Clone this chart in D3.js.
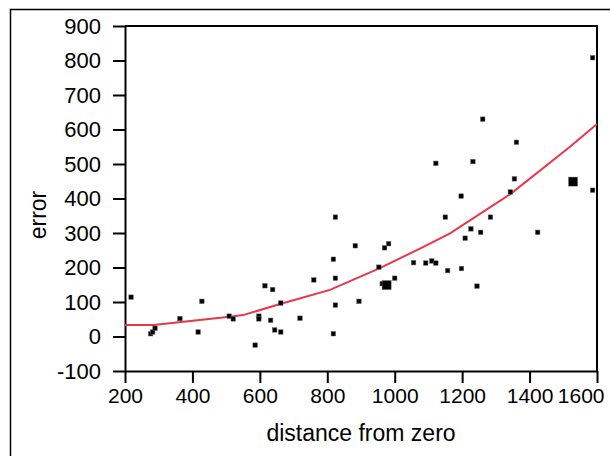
<!DOCTYPE html>
<html>
<head>
<meta charset="utf-8">
<script src="https://cdn.jsdelivr.net/npm/d3@7"></script>
<style>
  body { margin: 0; background: #fff; }
  text { font-family: "Liberation Sans", Arial, sans-serif; }
</style>
</head>
<body>
<div id="chart"></div>
<script>
// scatter points
var distance = [218, 276, 282, 289, 363, 417, 428, 509, 521, 586, 597, 597, 615, 638, 632, 644, 662, 662,
  719, 760, 824, 818, 824, 824, 818, 883, 894, 953, 970, 982, 963, 976, 1000, 1056, 1092, 1110, 1122,
  1122, 1150, 1157, 1197, 1198, 1209, 1226, 1232, 1244, 1255, 1261, 1284, 1343, 1355, 1361, 1424,
  1529, 1587, 1587];
var error = [114, 8, 13, 24, 52, 13, 102, 59, 51, -25, 59, 51, 147, 136, 47, 19, 13, 97,
  53, 164, 346, 224, 169, 91, 8, 263, 102, 201, 257, 269, 153, 149, 169, 214, 213, 219, 213,
  502, 346, 191, 407, 197, 285, 312, 507, 146, 302, 630, 346, 419, 457, 563, 302,
  449, 424, 808];
// how many observations sit on each marker
var count = [1, 1, 1, 1, 1, 1, 1, 1, 1, 1, 1, 1, 1, 1, 1, 1, 1, 1,
  1, 1, 1, 1, 1, 1, 1, 1, 1, 1, 1, 1, 1, 4, 1, 1, 1, 1, 1,
  1, 1, 1, 1, 1, 1, 1, 1, 1, 1, 1, 1, 1, 1, 1, 1,
  4, 1, 1];

// smoothed fit line
var fitX = [200, 285, 360, 510, 550, 660, 808, 956, 1075, 1164, 1342, 1520, 1600];
var fitY = [33, 33, 41, 57, 62, 94, 135, 198, 255, 299, 412, 550, 616];

var xTicks = [200, 400, 600, 800, 1000, 1200, 1400, 1600];
var yTicks = [-100, 0, 100, 200, 300, 400, 500, 600, 700, 800, 900];

var W = 610, H = 456;
var mLeft = 125, mRight = 597, mTop = 26, mBottom = 371;
var fontSize = 23;

var svg = d3.select("#chart").append("svg")
  .attr("width", W)
  .attr("height", H);

// outer frame (runs off the right and bottom edges)
svg.append("rect")
  .attr("x", 10.5).attr("y", 9.5)
  .attr("width", 640).attr("height", 480)
  .attr("fill", "none")
  .attr("stroke", "#000")
  .attr("stroke-width", 1.5);

var x = d3.scaleLinear().domain([200, 1600]).range([mLeft, mRight]);
var y = d3.scaleLinear().domain([-100, 900]).range([mBottom, mTop]);
var side = d3.scaleSqrt().domain([1, 4]).range([4.5, 9]);

// frame top + right
svg.append("path")
  .attr("d", "M" + mLeft + "," + mTop + "H" + mRight + "V" + mBottom)
  .attr("fill", "none")
  .attr("stroke", "#000")
  .attr("stroke-width", 2);

var plain = function(d){ return String(d); };

var yAxis = svg.append("g")
  .attr("transform", "translate(" + mLeft + ",0)")
  .call(d3.axisLeft(y).tickValues(yTicks).tickFormat(plain)
    .tickSize(12).tickSizeOuter(0).tickPadding(12));

var xAxis = svg.append("g")
  .attr("transform", "translate(0," + mBottom + ")")
  .call(d3.axisBottom(x).tickValues(xTicks).tickFormat(plain)
    .tickSize(12).tickSizeOuter(0).tickPadding(5));

yAxis.attr("font-size", 22);
xAxis.attr("font-size", 21);
[yAxis, xAxis].forEach(function(a){
  a.attr("font-family", "Liberation Sans, Arial, sans-serif");
  a.selectAll("path, line").attr("stroke", "#000").attr("stroke-width", 2);
  a.selectAll("text").attr("fill", "#000");
});

// last x label is pulled in so it stays inside the window
xAxis.selectAll(".tick text")
  .filter(function(d){ return d === xTicks[xTicks.length - 1]; })
  .attr("text-anchor", "end")
  .attr("x", 7);

// fit line
var line = d3.line()
  .x(function(d){ return x(d[0]); })
  .y(function(d){ return y(d[1]); });

svg.append("path")
  .datum(fitX.map(function(v, i){ return [v, fitY[i]]; }))
  .attr("d", line)
  .attr("fill", "none")
  .attr("stroke", "#e8364a")
  .attr("stroke-width", 2);

// points
svg.append("g").selectAll("rect")
  .data(distance.map(function(v, i){ return {x: v, y: error[i], n: count[i]}; }))
  .enter()
  .append("rect")
  .attr("x", function(d){ return x(d.x) - side(d.n)/2; })
  .attr("y", function(d){ return y(d.y) - side(d.n)/2; })
  .attr("width", function(d){ return side(d.n); })
  .attr("height", function(d){ return side(d.n); })
  .attr("fill", "#000")
  .attr("stroke", "#666")
  .attr("stroke-width", 0.5);

// axis titles
svg.append("text")
  .attr("x", (mLeft + mRight) / 2)
  .attr("y", 441)
  .attr("text-anchor", "middle")
  .attr("font-size", fontSize)
  .text("distance from zero");

svg.append("text")
  .attr("transform", "translate(46,215) rotate(-90)")
  .attr("text-anchor", "middle")
  .attr("font-size", fontSize)
  .text("error");
</script>
</body>
</html>
